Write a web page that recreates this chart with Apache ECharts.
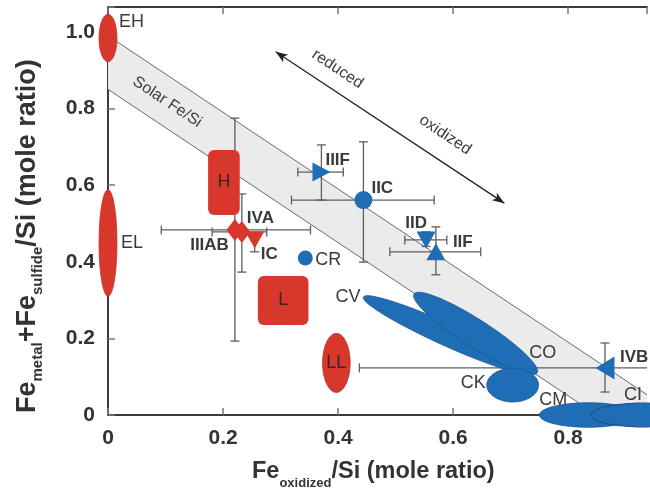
<!DOCTYPE html>
<html><head><meta charset="utf-8">
<script src="https://cdn.jsdelivr.net/npm/echarts@6/dist/echarts.min.js"></script>
<style>html,body{margin:0;padding:0;background:#fff}#c{width:650px;height:491px}</style>
</head><body><div id="c"></div>
<script>
// ---------------- DATA ----------------
const xTickLabels = ['0','0.2','0.4','0.6','0.8'];
const yTickLabels = ['0','0.2','0.4','0.6','0.8','1.0'];
const xTickValues = [0,0.2,0.4,0.6,0.8];
const yTickValues = [0,0.2,0.4,0.6,0.8,1.0];
const X_MAX = 0.937, Y_MAX = 1.065;

// Solar Fe/Si band: lines y = c - x  (upper, lower intercepts)
const solarBand = [0.99, 0.85];

// ordinary / enstatite chondrites (red)
const redEllipseNames = ['EH','EL','LL'];
const redEllipseCx = [0, 0, 0.397];
const redEllipseCy = [0.984, 0.449, 0.136];
const redEllipseRx = [0.0156, 0.0156, 0.024];
const redEllipseRy = [0.062, 0.139, 0.077];

const redRectNames = ['H','L'];
const redRectCx = [0.2015, 0.3045];
const redRectCy = [0.607, 0.299];
const redRectW = [0.055, 0.088];
const redRectH = [0.17, 0.128];

// carbonaceous chondrites (blue)
const tiltNames = ['CV','CO'];
const tiltX1 = [0.444, 0.532];
const tiltY1 = [0.308, 0.316];
const tiltX2 = [0.736, 0.746];
const tiltY2 = [0.110, 0.110];
const tiltRatio = [0.12, 0.19];

const blueEllipseNames = ['CK','CM','CI'];
const blueEllipseCx = [0.7035, 0.835, 0.93];
const blueEllipseCy = [0.078, 0.0, 0.0];
const blueEllipseRx = [0.045, 0.085, 0.09];
const blueEllipseRy = [0.044, 0.032, 0.031];

// iron meteorite groups with error bars
const ironGroups = ['IIIAB','IVA','IC','IIIF','IIC','IID','IIF','IVB'];
const ironX   = [0.2206, 0.2327, 0.255, 0.371, 0.444, 0.553, 0.570, 0.864];
const ironY   = [0.483, 0.478, 0.457, 0.634, 0.561, 0.457, 0.426, 0.123];
const ironXlo = [0.0926, 0.181, null, 0.330, 0.319, 0.516, 0.490, 0.437];
const ironXhi = [0.352, 0.276, null, 0.409, 0.567, 0.589, 0.648, 1.0];
const ironYlo = [0.193, 0.373, 0.426, 0.561, 0.399, 0.440, 0.366, 0.060];
const ironYhi = [0.775, 0.577, 0.470, 0.705, 0.713, 0.478, 0.491, 0.188];

const crName = 'CR', crX = 0.343, crY = 0.41;

// redox arrow and annotation anchors (data coords)
const arrowStart = [0.2915, 0.948];
const arrowEnd = [0.689, 0.553];
const annotTexts = ['Solar Fe/Si','reduced','oxidized'];
const annotX = [0.103, 0.399, 0.586];
const annotY = [0.817, 0.903, 0.731];

// ---------------- STYLE ----------------
const RED = '#d8372c', BLUE = '#1f6eb5', BLUE_EDGE = '#1a5590';
const FONT = '"Liberation Sans", Arial, Helvetica, sans-serif';
const TXT = '#333';

const ironStyle = {
  IIIAB:{symbol:'diamond', rot:0, color:RED, size:[17,22]},
  IVA:{symbol:'diamond', rot:0, color:RED, size:[17,22]},
  IC:{symbol:'triangle', rot:180, color:RED, size:[19,17]},
  IIIF:{symbol:'triangle', rot:-90, color:BLUE, size:[19,18]},
  IIC:{symbol:'circle', rot:0, color:BLUE, size:18},
  IID:{symbol:'triangle', rot:180, color:BLUE, size:[19,17]},
  IIF:{symbol:'triangle', rot:0, color:BLUE, size:[19,17]},
  IVB:{symbol:'triangle', rot:90, color:BLUE, size:[23,19]}
};
const labelOffset = {
  EH:[11,-16,'left',false], EL:[13,0,'left',false], LL:[0,0,'center',false],
  H:[0,0,'center',false], L:[0,0,'center',false],
  CV:[-3,0,'right',false], CO:[-8,-20,'left',false], CK:[-27,-2,'right',false],
  CM:[-49,-15,'left',false], CI:[-19,-20,'left',false], CR:[10,2,'left',false],
  IIIAB:[-6,15,'right',true], IVA:[5,-14,'left',true], IC:[6,14,'left',true],
  IIIF:[4,-12,'left',true], IIC:[8,-12,'left',true], IID:[-10,-17,'center',true],
  IIF:[17,-9,'left',true], IVB:[15,-11,'left',true]
};

// label anchors built from the data arrays
const labelList = [];
redEllipseNames.forEach((n,i)=>labelList.push([n, redEllipseCx[i], redEllipseCy[i]]));
redRectNames.forEach((n,i)=>labelList.push([n, redRectCx[i], redRectCy[i]]));
labelList.push(['CV', tiltX1[0], tiltY1[0]]);
labelList.push(['CO', tiltX2[1], tiltY2[1]]);
blueEllipseNames.forEach((n,i)=>labelList.push([n, blueEllipseCx[i], blueEllipseCy[i]]));
labelList.push([crName, crX, crY]);
ironGroups.forEach((n,i)=>labelList.push([n, ironX[i], ironY[i]]));

function ellipsePts(cx, cy, a, b, ang){
  const pts = [], n = 90;
  for (let i=0;i<n;i++){
    const t = 2*Math.PI*i/n, x = a*Math.cos(t), y = b*Math.sin(t);
    pts.push([cx + x*Math.cos(ang) - y*Math.sin(ang), cy + x*Math.sin(ang) + y*Math.cos(ang)]);
  }
  return pts;
}

const tickFmt = (vals, labs) => v => { for (let i=0;i<vals.length;i++) if (Math.abs(v-vals[i])<1e-6) return labs[i]; return ''; };

const axisLine = {show:true, onZero:false, lineStyle:{color:'#3a3a3a', width:2}};
const axisTick = {show:true, inside:true, length:7, lineStyle:{color:'#777', width:1.5}};
const axisLabelStyle = {color:TXT, fontSize:21, fontWeight:'bold', fontFamily:FONT};

// ---------------- TITLES (text layout) ----------------
const cv = document.createElement('canvas').getContext('2d');
function tw(text, size){ cv.font = 'bold '+size+'px '+FONT; return cv.measureText(text).width; }
function titleParts(parts, mainSize, subSize, subDy){
  let u = 0; const out = [];
  parts.forEach(p=>{
    const size = p[1] ? subSize : mainSize;
    out.push({type:'text', x:u, y:p[1]?subDy:0, style:{text:p[0], font:'bold '+size+'px '+FONT, fill:TXT, align:'left', verticalAlign:'middle'}});
    u += tw(p[0], size);
  });
  return out;
}
const xTitle = {type:'group', x:252, y:471.5, children: titleParts([['Fe',0],['oxidized',1],['/Si (mole ratio)',0]], 23.5, 13, 12)};
const yTitle = {type:'group', x:27.5, y:413, rotation:Math.PI/2, children: titleParts([['Fe',0],['metal',1],['+Fe',0],['sulfide',1],['/Si (mole ratio)',0]], 27, 15, 10.5)};

// ---------------- CHART ----------------
const chart = echarts.init(document.getElementById('c'));
const option = {
  backgroundColor:'#fff',
  animation:false,
  grid:{left:108, right:0, top:7, bottom:76, containLabel:false},
  xAxis:[
    {type:'value', position:'bottom', min:0, max:X_MAX, interval:0.2, axisLine, axisTick,
     splitLine:{show:false}, axisLabel:Object.assign({margin:13, formatter:tickFmt(xTickValues,xTickLabels)}, axisLabelStyle)},
    {type:'value', position:'top', min:0, max:X_MAX, interval:0.2, axisLine, axisTick,
     splitLine:{show:false}, axisLabel:{show:false}}
  ],
  yAxis:[
    {type:'value', min:0, max:Y_MAX, interval:0.2, axisLine, axisTick,
     splitLine:{show:false}, axisLabel:Object.assign({margin:13, formatter:tickFmt(yTickValues,yTickLabels)}, axisLabelStyle)}
  ],
  graphic:[xTitle, yTitle],
  series:[
    // solar band
    {type:'custom', z:1, silent:true, clip:true, data:[solarBand],
     renderItem(params, api){
       const up = api.value(0), lo = api.value(1);
       const p = [api.coord([0,up]), api.coord([X_MAX, up-X_MAX]), api.coord([X_MAX,0]), api.coord([lo,0]), api.coord([0,lo])];
       return {type:'group', children:[
         {type:'polygon', shape:{points:p}, style:{fill:'#ebebeb'}},
         {type:'line', shape:{x1:p[0][0],y1:p[0][1],x2:p[1][0],y2:p[1][1]}, style:{stroke:'#6a6a6a', lineWidth:1}},
         {type:'line', shape:{x1:p[4][0],y1:p[4][1],x2:p[3][0],y2:p[3][1]}, style:{stroke:'#6a6a6a', lineWidth:1}}
       ]};
     }},
    // arrow + annotation texts
    {type:'custom', z:2, silent:true, clip:false, data:[[arrowStart[0],arrowStart[1],arrowEnd[0],arrowEnd[1]]],
     renderItem(params, api){
       const a = api.coord([api.value(0),api.value(1)]), b = api.coord([api.value(2),api.value(3)]);
       const ang = Math.atan2(b[1]-a[1], b[0]-a[0]);
       const head = (tip, dir) => {
         const L = 12, W = 4.5;
         const bx = tip[0] - dir*L*Math.cos(ang), by = tip[1] - dir*L*Math.sin(ang);
         return {type:'polygon', shape:{points:[tip,[bx - W*Math.sin(ang), by + W*Math.cos(ang)],[tip[0]-dir*(L-3)*Math.cos(ang), tip[1]-dir*(L-3)*Math.sin(ang)],[bx + W*Math.sin(ang), by - W*Math.cos(ang)]]}, style:{fill:'#222'}};
       };
       const rot = -Math.atan2(api.coord([1,0])[1]-api.coord([0,1])[1], api.coord([1,0])[0]-api.coord([0,1])[0]);
       const kids = [
         {type:'line', shape:{x1:a[0],y1:a[1],x2:b[0],y2:b[1]}, style:{stroke:'#222', lineWidth:1.3}},
         head(a,-1), head(b,1)
       ];
       annotTexts.forEach((t,i)=>{
         const p = api.coord([annotX[i], annotY[i]]);
         kids.push({type:'text', x:p[0], y:p[1], rotation:rot, style:{text:t, font:'16px '+FONT, fill:'#3c3c3c', align:'center', verticalAlign:'middle'}});
       });
       return {type:'group', children:kids};
     }},
    // error bars
    {type:'custom', z:3, silent:true, clip:true, data:ironGroups.map((g,i)=>[ironX[i], ironY[i]]),
     renderItem(params, api){
       const i = params.dataIndex, kids = [], cap = 4.5;
       const st = {stroke:'#5e5e5e', lineWidth:1.3};
       if (ironXlo[i] != null){
         const l = api.coord([ironXlo[i], ironY[i]]), r = api.coord([ironXhi[i], ironY[i]]);
         kids.push({type:'line', shape:{x1:l[0],y1:l[1],x2:r[0],y2:r[1]}, style:st});
         kids.push({type:'line', shape:{x1:l[0],y1:l[1]-cap,x2:l[0],y2:l[1]+cap}, style:st});
         kids.push({type:'line', shape:{x1:r[0],y1:r[1]-cap,x2:r[0],y2:r[1]+cap}, style:st});
       }
       if (ironYlo[i] != null){
         const t = api.coord([ironX[i], ironYhi[i]]), bt = api.coord([ironX[i], ironYlo[i]]);
         kids.push({type:'line', shape:{x1:t[0],y1:t[1],x2:bt[0],y2:bt[1]}, style:st});
         kids.push({type:'line', shape:{x1:t[0]-cap,y1:t[1],x2:t[0]+cap,y2:t[1]}, style:st});
         kids.push({type:'line', shape:{x1:bt[0]-cap,y1:bt[1],x2:bt[0]+cap,y2:bt[1]}, style:st});
       }
       return {type:'group', children:kids};
     }},
    // red ellipses
    {type:'custom', z:4, silent:true, clip:false, data:redEllipseNames.map((n,i)=>[redEllipseCx[i], redEllipseCy[i], redEllipseRx[i], redEllipseRy[i]]),
     renderItem(params, api){
       const c = api.coord([api.value(0), api.value(1)]), s = api.size([api.value(2), api.value(3)]);
       return {type:'polygon', shape:{points:ellipsePts(c[0], c[1], s[0], s[1], 0)}, style:{fill:RED, stroke:'#c4302a', lineWidth:0.8}};
     }},
    // red rects
    {type:'custom', z:4, silent:true, clip:false, data:redRectNames.map((n,i)=>[redRectCx[i], redRectCy[i], redRectW[i], redRectH[i]]),
     renderItem(params, api){
       const c = api.coord([api.value(0), api.value(1)]), s = api.size([api.value(2), api.value(3)]);
       return {type:'rect', shape:{x:c[0]-s[0]/2, y:c[1]-s[1]/2, width:s[0], height:s[1], r:6}, style:{fill:RED}};
     }},
    // tilted blue ellipses (CV, CO)
    {type:'custom', z:4, silent:true, clip:false, data:tiltNames.map((n,i)=>[tiltX1[i], tiltY1[i], tiltX2[i], tiltY2[i], tiltRatio[i]]),
     renderItem(params, api){
       const p1 = api.coord([api.value(0), api.value(1)]), p2 = api.coord([api.value(2), api.value(3)]);
       const a = Math.hypot(p2[0]-p1[0], p2[1]-p1[1])/2, b = a*api.value(4);
       const ang = Math.atan2(p2[1]-p1[1], p2[0]-p1[0]);
       return {type:'polygon', shape:{points:ellipsePts((p1[0]+p2[0])/2, (p1[1]+p2[1])/2, a, b, ang)}, style:{fill:BLUE, stroke:BLUE_EDGE, lineWidth:0.8}};
     }},
    // blue ellipses (CK, CM, CI)
    {type:'custom', z:4, silent:true, clip:false, data:blueEllipseNames.map((n,i)=>[blueEllipseCx[i], blueEllipseCy[i], blueEllipseRx[i], blueEllipseRy[i]]),
     renderItem(params, api){
       const c = api.coord([api.value(0), api.value(1)]), s = api.size([api.value(2), api.value(3)]);
       return {type:'polygon', shape:{points:ellipsePts(c[0], c[1], s[0], s[1], 0)}, style:{fill:BLUE, stroke:BLUE_EDGE, lineWidth:params.dataIndex===2?1.2:0.8}};
     }},
    // iron group markers
    {type:'scatter', z:5, silent:true,
     data:ironGroups.map((g,i)=>({value:[ironX[i], ironY[i]], symbol:ironStyle[g].symbol, symbolRotate:ironStyle[g].rot, symbolSize:ironStyle[g].size, itemStyle:{color:ironStyle[g].color, opacity:1}}))},
    // CR
    {type:'scatter', z:5, silent:true, data:[[crX, crY]], symbol:'circle', symbolSize:15, itemStyle:{color:BLUE, opacity:1}},
    // labels
    {type:'custom', z:6, silent:true, clip:false, data:labelList.map(l=>[l[1], l[2]]),
     renderItem(params, api){
       const l = labelList[params.dataIndex], o = labelOffset[l[0]];
       const c = api.coord([api.value(0), api.value(1)]);
       const inside = ['H','L','LL'].indexOf(l[0])>=0;
       return {type:'text', x:c[0]+o[0], y:c[1]+o[1], style:{text:l[0], font:(o[3]?'bold 17px ':'18px ')+FONT, fill:inside?'#3a2520':'#3a3a3a', align:o[2], verticalAlign:'middle'}};
     }}
  ]
};
chart.setOption(option);
</script>
</body></html>
